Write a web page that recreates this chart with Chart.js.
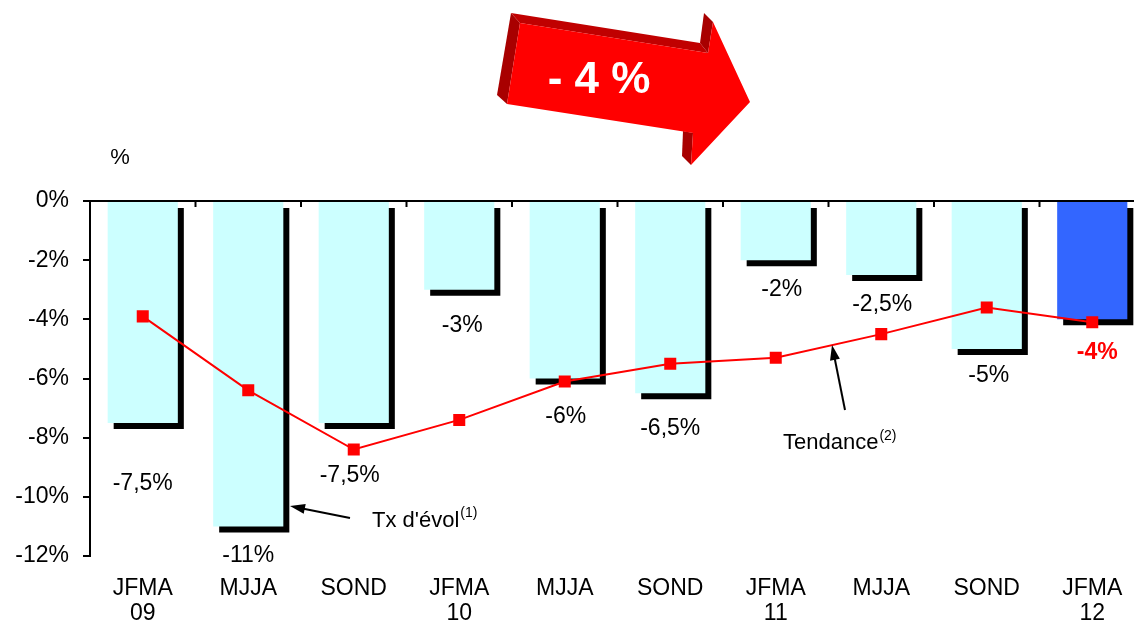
<!DOCTYPE html>
<html>
<head>
<meta charset="utf-8">
<script src="https://cdn.jsdelivr.net/npm/chart.js@4"></script>
<style>
  html, body { margin:0; padding:0; background:#fff; overflow:hidden; }
  #wrap { width:1146px; height:621px; }
</style>
</head>
<body>
<div id="wrap"><canvas id="evolChart" width="1146" height="621"></canvas></div>
<script>
// periods (4-month blocks)
const categories = [['JFMA','09'],'MJJA','SOND',['JFMA','10'],'MJJA','SOND',['JFMA','11'],'MJJA','SOND',['JFMA','12']];
// Tx d'évol (1)
const evolValues = [-7.5, -11, -7.5, -3, -6, -6.5, -2, -2.5, -5, -4];
const evolLabels = ['-7,5%','-11%','-7,5%','-3%','-6%','-6,5%','-2%','-2,5%','-5%','-4%'];
// Tendance (2)
const trendValues = [-3.9, -6.4, -8.4, -7.4, -6.1, -5.5, -5.3, -4.5, -3.6, -4.1];
const yTicks = [0, -2, -4, -6, -8, -10, -12];

const FONT = '"Liberation Sans", Arial, sans-serif';

// black drop shadow under the bars
const barShadow = {
  id: 'barShadow',
  beforeDatasetDraw(chart, args){
    if(args.meta.type !== 'bar') return;
    const c = chart.ctx;
    c.save();
    c.shadowColor = '#000';
    c.shadowOffsetX = 6;
    c.shadowOffsetY = 6;
    c.shadowBlur = 0;
  },
  afterDatasetDraw(chart, args){
    if(args.meta.type !== 'bar') return;
    chart.ctx.restore();
  }
};

function arrowLine(c, x1, y1, x2, y2){
  // line from (x1,y1) to tip (x2,y2) with filled head
  const a = Math.atan2(y2 - y1, x2 - x1);
  c.strokeStyle = '#000'; c.fillStyle = '#000'; c.lineWidth = 2;
  c.beginPath();
  c.moveTo(x1, y1);
  c.lineTo(x2 - 10*Math.cos(a), y2 - 10*Math.sin(a));
  c.stroke();
  c.beginPath();
  c.moveTo(x2, y2);
  c.lineTo(x2 - 15*Math.cos(a) + 5*Math.sin(a), y2 - 15*Math.sin(a) - 5*Math.cos(a));
  c.lineTo(x2 - 15*Math.cos(a) - 5*Math.sin(a), y2 - 15*Math.sin(a) + 5*Math.cos(a));
  c.closePath();
  c.fill();
}

const extras = {
  id: 'extras',
  afterDraw(chart){
    const c = chart.ctx;
    const xs = chart.scales.x;
    const top = chart.chartArea.top;
    c.save();

    // small ticks between categories on the zero line
    c.strokeStyle = '#000'; c.lineWidth = 2;
    for(let i = 0; i < categories.length - 1; i++){
      const x = (xs.getPixelForValue(i) + xs.getPixelForValue(i+1)) / 2;
      c.beginPath(); c.moveTo(x, top); c.lineTo(x, top + 6); c.stroke();
    }

    // value labels under the bars
    const meta = chart.getDatasetMeta(1);
    const dy = [61, 29, 53, 36, 38, 35, 29, 30, 27, 33];
    const dx = [0, 0, -4, 3, 1, 0, 6, 1, 2, 5];
    c.textAlign = 'center'; c.textBaseline = 'middle';
    meta.data.forEach((bar, i) => {
      const last = i === evolValues.length - 1;
      c.fillStyle = last ? '#FF0000' : '#000';
      c.font = (last ? 'bold ' : '') + '23px ' + FONT;
      c.fillText(evolLabels[i], bar.x + dx[i], bar.y + dy[i]);
    });

    // axis unit
    c.fillStyle = '#000';
    c.font = '22px ' + FONT;
    c.fillText('%', 120, 158);

    // Tx d'évol annotation
    arrowLine(c, 350, 518, 290, 506);
    c.textAlign = 'left'; c.textBaseline = 'alphabetic';
    c.font = '22px ' + FONT;
    c.fillText("Tx d'évol", 372, 527);
    let w = c.measureText("Tx d'évol").width;
    c.font = '14px ' + FONT;
    c.fillText('(1)', 372 + w + 1, 517);

    // Tendance annotation
    arrowLine(c, 845, 410, 832, 345);
    c.font = '22px ' + FONT;
    c.fillText('Tendance', 783, 449);
    w = c.measureText('Tendance').width;
    c.font = '14px ' + FONT;
    c.fillText('(2)', 783 + w + 1, 440);

    // big red arrow "- 4 %"
    c.fillStyle = '#A80000';
    c.beginPath();
    c.moveTo(511, 13); c.lineTo(520, 23); c.lineTo(507, 104); c.lineTo(497, 95);
    c.closePath(); c.fill();
    c.fillStyle = '#C00000';
    c.beginPath();
    c.moveTo(511, 13); c.lineTo(700, 43); c.lineTo(708, 53); c.lineTo(520, 23);
    c.closePath(); c.fill();
    c.fillStyle = '#A80000';
    c.beginPath();
    c.moveTo(700, 43); c.lineTo(704, 13); c.lineTo(713, 22); c.lineTo(708, 53);
    c.closePath(); c.fill();
    c.beginPath();
    c.moveTo(683, 131); c.lineTo(693, 133); c.lineTo(691, 165); c.lineTo(682, 156);
    c.closePath(); c.fill();
    c.fillStyle = '#FF0000';
    c.beginPath();
    c.moveTo(520, 23); c.lineTo(708, 53); c.lineTo(713, 22); c.lineTo(750, 102);
    c.lineTo(691, 165); c.lineTo(693, 133); c.lineTo(507, 104);
    c.closePath(); c.fill();
    c.fillStyle = '#fff';
    c.font = 'bold 44px ' + FONT;
    c.textAlign = 'center';
    c.fillText('- 4 %', 599, 93);

    c.restore();
  }
};

new Chart(document.getElementById('evolChart'), {
  data: {
    labels: categories,
    datasets: [
      {
        type: 'line',
        label: 'Tendance',
        data: trendValues,
        borderColor: '#FF0000',
        borderWidth: 2,
        tension: 0,
        pointStyle: 'rect',
        pointRadius: 8.5,
        pointBackgroundColor: '#FF0000',
        pointBorderWidth: 0,
        order: 0
      },
      {
        type: 'bar',
        label: "Tx d'évol",
        data: evolValues,
        backgroundColor: evolValues.map((v, i) => i === evolValues.length - 1 ? '#3366FF' : '#CCFFFF'),
        borderWidth: 0,
        barPercentage: 0.665,
        categoryPercentage: 1,
        order: 1
      }
    ]
  },
  options: {
    responsive: false,
    animation: false,
    layout: { autoPadding: false, padding: { top: 201, left: 0, right: 1, bottom: 0 } },
    plugins: { legend: { display: false }, tooltip: { enabled: false } },
    scales: {
      x: {
        offset: true,
        grid: { display: false },
        border: { display: false },
        ticks: { color: '#000', font: { family: FONT, size: 23, lineHeight: 1.1 }, padding: 12, maxRotation: 0, autoSkip: false },
        afterFit(scale){ scale.height = 65; }
      },
      y: {
        min: -12, max: 0,
        z: 1,
        afterBuildTicks(scale){ scale.ticks = yTicks.map(v => ({ value: v })); },
        grid: {
          color: ctx => ctx.tick && ctx.tick.value === 0 ? '#000' : 'rgba(0,0,0,0)',
          tickColor: '#000',
          lineWidth: 2,
          tickLength: 7,
          drawTicks: true
        },
        border: { display: true, color: '#000', width: 2 },
        ticks: {
          color: '#000',
          font: { family: FONT, size: 23 },
          padding: 14,
          callback: v => v + '%'
        },
        afterFit(scale){ scale.width = 90; }
      }
    }
  },
  plugins: [barShadow, extras]
});
</script>
</body>
</html>
